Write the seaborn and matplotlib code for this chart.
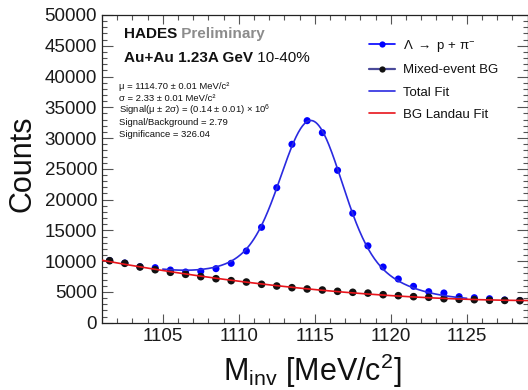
import numpy as np
import pandas as pd
import matplotlib
matplotlib.use("Agg")
import matplotlib.pyplot as plt
from matplotlib.ticker import MultipleLocator, FuncFormatter
from matplotlib.lines import Line2D
import seaborn as sns

# Invariant-mass bin centres (1 MeV/c^2 bins)
mass_bins = [1101.5, 1102.5, 1103.5, 1104.5, 1105.5, 1106.5, 1107.5, 1108.5,
             1109.5, 1110.5, 1111.5, 1112.5, 1113.5, 1114.5, 1115.5, 1116.5,
             1117.5, 1118.5, 1119.5, 1120.5, 1121.5, 1122.5, 1123.5, 1124.5,
             1125.5, 1126.5, 1127.5, 1128.5]

# Same-event p pi- pairs
lambda_counts = [10100, 9700, 9100, 8940, 8560, 8240, 8350, 8780,
                 9650, 11650, 15500, 21940, 28990, 32830, 30880, 24760,
                 17780, 12490, 9050, 7100, 5910, 5040, 4830, 4230,
                 4060, 3900, 3700, 3600]

# Mixed-event combinatorial background
mixed_bg_counts = [10075, 9650, 9050, 8610, 8190, 7860, 7480, 7150,
                   6830, 6610, 6240, 5960, 5690, 5480, 5310, 5100,
                   4940, 4810, 4550, 4390, 4230, 4130, 3900, 3800,
                   3740, 3640, 3620, 3575]

legend_labels = [r"Λ $\rightarrow$ p + π$^{-}$", "Mixed-event BG", "Total Fit", "BG Landau Fit"]

fit_range = (1105.0, 1125.0)

stats_lines = [
    "μ = 1114.70 ± 0.01 MeV/c²",
    "σ = 2.33 ± 0.01 MeV/c²",
    r"Signal(μ ± 2σ) = (0.14 ± 0.01) × 10$^{6}$",
    "Signal/Background = 2.79",
    "Significance = 326.04",
]

df = pd.DataFrame({"mass": mass_bins, "lambda": lambda_counts, "bg": mixed_bg_counts})

# ---- fits ----------------------------------------------------------------
x = df["mass"].to_numpy(float)
y_sig = df["lambda"].to_numpy(float)
y_bg = df["bg"].to_numpy(float)

bg_model = np.poly1d(np.polyfit(x, y_bg, 2))


def gauss(v, mu, s):
    return np.exp(-0.5 * ((v - mu) / s) ** 2)


# signal: two Gaussians on top of the background, least squares over a grid
sel = (x >= fit_range[0]) & (x <= fit_range[1])
resid = y_sig[sel] - bg_model(x[sel])
best = None
for mu in np.arange(1114.4, 1115.0, 0.02):
    for s1 in np.arange(1.6, 3.0, 0.05):
        for s2 in np.arange(3.0, 8.0, 0.1):
            A = np.column_stack([gauss(x[sel], mu, s1), gauss(x[sel], mu, s2)])
            coef, *_ = np.linalg.lstsq(A, resid, rcond=None)
            if np.any(coef < 0):
                continue
            chi2 = np.sum((A @ coef - resid) ** 2)
            if best is None or chi2 < best[0]:
                best = (chi2, mu, s1, s2, coef)
_, mu_fit, s1_fit, s2_fit, (amp1, amp2) = best

x_bg = np.linspace(1101.0, 1129.0, 300)
x_tot = np.linspace(fit_range[0], fit_range[1], 400)
bg_curve = pd.DataFrame({"mass": x_bg, "counts": bg_model(x_bg)})
tot_curve = pd.DataFrame({
    "mass": x_tot,
    "counts": bg_model(x_tot) + amp1 * gauss(x_tot, mu_fit, s1_fit)
    + amp2 * gauss(x_tot, mu_fit, s2_fit),
})

# ---- style ---------------------------------------------------------------
sns.set_style("ticks")
plt.rcParams["font.family"] = ["Liberation Sans", "DejaVu Sans"]
plt.rcParams["mathtext.fontset"] = "custom"
plt.rcParams["mathtext.rm"] = "Liberation Sans"
plt.rcParams["mathtext.it"] = "Liberation Sans:italic"
plt.rcParams["mathtext.bf"] = "Liberation Sans:bold"

W, H = 528, 390
fig = plt.figure(figsize=(W / 100, H / 100), dpi=100)
ax_l, ax_r, ax_t, ax_b = 102, 527.5, 15, 322.7
ax = fig.add_axes([ax_l / W, 1 - ax_b / H, (ax_r - ax_l) / W, (ax_b - ax_t) / H])

BLUE = "#0000ff"
FITBLUE = "#2a2ae0"
RED = "#e8141b"
BGLINE = "#4a4a9a"

sns.scatterplot(data=df, x="mass", y="lambda", ax=ax, color=BLUE, s=26,
                edgecolor="none", zorder=3, legend=False)
sns.scatterplot(data=df, x="mass", y="bg", ax=ax, color="#111111", s=30,
                edgecolor="none", zorder=4, legend=False)
sns.lineplot(data=tot_curve, x="mass", y="counts", ax=ax, color=FITBLUE,
             linewidth=1.2, zorder=5)
sns.lineplot(data=bg_curve, x="mass", y="counts", ax=ax, color=RED,
             linewidth=1.2, zorder=6)

ax.set_xlim(1101, 1129)
ax.set_ylim(0, 50000)
ax.xaxis.set_major_locator(MultipleLocator(5))
ax.xaxis.set_minor_locator(MultipleLocator(1))
ax.yaxis.set_major_locator(MultipleLocator(5000))
ax.yaxis.set_minor_locator(MultipleLocator(1000))
ax.yaxis.set_major_formatter(FuncFormatter(lambda v, p: f"{int(round(v))}"))
ax.set_xlabel("")
ax.set_ylabel("")

for sp in ax.spines.values():
    sp.set_visible(True)
    sp.set_color("#222222")
    sp.set_linewidth(0.9)

ax.tick_params(which="both", direction="in", top=True, right=True,
               colors="#555555", labelcolor="#1a1a1a", labelsize=13.5, width=0.8)
ax.tick_params(axis="x", which="major", length=6.5, pad=4)
ax.tick_params(axis="y", which="major", length=8, pad=3.5)
ax.tick_params(which="minor", length=3.5)


def fpos(px, py):
    return px / W, 1 - py / H


# axis titles
fig.text(*fpos(23, 164), "Counts", rotation=90, fontsize=22,
         ha="center", va="center", color="#111111")
fig.text(*fpos(312, 381), r"M$_{\mathrm{inv}}$ [MeV/c$^{2}$]", fontsize=22,
         ha="center", va="baseline", color="#111111")

# header
t1 = fig.text(*fpos(124, 38.3), "HADES", fontsize=11, fontweight="bold",
              va="baseline", color="#111111")
ax.annotate(" Preliminary", xy=(1, 0), xycoords=t1, fontsize=11,
            fontweight="bold", va="bottom", color="#8c8c8c")
t2 = fig.text(*fpos(124, 61.7), "Au+Au 1.23A GeV", fontsize=11,
              fontweight="bold", va="baseline", color="#111111")
ax.annotate(" 10-40%", xy=(1, 0), xycoords=t2, fontsize=11,
            va="bottom", color="#111111")

# fit statistics
for i, line in enumerate(stats_lines):
    fig.text(*fpos(119, 89 + 12.0 * i), line, fontsize=6.8, va="baseline",
             color="#111111")

# legend
handles = [
    Line2D([], [], color=BLUE, lw=1.2, marker="o", ms=4.5, markeredgewidth=0),
    Line2D([], [], color=BGLINE, lw=1.6, marker="o", ms=4.5,
           markerfacecolor="#111111", markeredgewidth=0),
    Line2D([], [], color=FITBLUE, lw=1.2),
    Line2D([], [], color=RED, lw=1.2),
]
ax.legend(handles, legend_labels, loc="upper left",
          bbox_to_anchor=((369 - ax_l) / (ax_r - ax_l), (ax_b - 38) / (ax_b - ax_t)),
          frameon=False, fontsize=9.5, handlelength=2.0, handletextpad=0.55,
          labelspacing=0.76, borderpad=0, borderaxespad=0, labelcolor="#111111")

fig.savefig("out.png", dpi=100)
